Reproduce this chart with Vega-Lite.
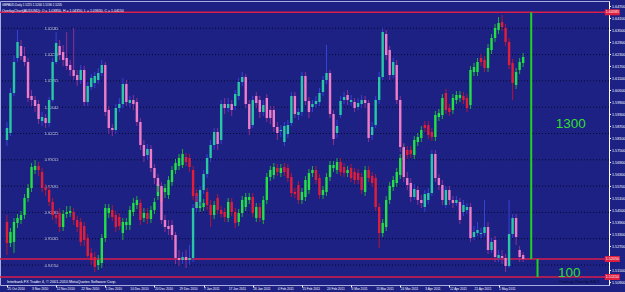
{
  "$schema": "https://vega.github.io/schema/vega-lite/v6.json",
  "width": 609,
  "height": 284,
  "autosize": "none",
  "padding": {"left": 0, "top": 1, "right": 16, "bottom": 7},
  "background": "#1d2184",
  "config": {"view": {"stroke": "#a9acdc", "strokeWidth": 1}, "font": "Liberation Sans"},
  "title": {"text": "GBPAUD,Daily  1.5225 1.5240 1.5190 1.5205", "subtitle": "OverlayChart(AUDUSD): O = 1.03850, H = 1.04350, L = 1.03650, C = 1.04150", "anchor": "start", "frame": "group", "offset": -11, "dx": 2, "fontSize": 3, "fontWeight": "normal", "color": "#ffffff", "font": "Liberation Sans", "subtitleFont": "Liberation Sans", "subtitleFontSize": 3.5, "subtitleColor": "#ffffff", "subtitlePadding": 1.8},
  "datasets": {
    "a": [
{"i":0,"o":0.959,"h":0.9625,"l":0.9425,"c":0.9485},
{"i":1,"o":0.9485,"h":0.956,"l":0.9465,"c":0.954},
{"i":2,"o":0.949,"h":0.961,"l":0.9435,"c":0.959},
{"i":3,"o":0.9585,"h":0.963,"l":0.956,"c":0.961},
{"i":4,"o":0.96,"h":0.9645,"l":0.958,"c":0.9625},
{"i":5,"o":0.9625,"h":0.973,"l":0.9605,"c":0.971},
{"i":6,"o":0.971,"h":0.978,"l":0.969,"c":0.976},
{"i":7,"o":0.976,"h":0.9885,"l":0.974,"c":0.9865},
{"i":8,"o":0.985,"h":0.99,"l":0.983,"c":0.987},
{"i":9,"o":0.987,"h":0.989,"l":0.982,"c":0.985},
{"i":10,"o":0.984,"h":0.986,"l":0.974,"c":0.976},
{"i":11,"o":0.976,"h":0.978,"l":0.972,"c":0.975},
{"i":12,"o":0.975,"h":0.977,"l":0.967,"c":0.969},
{"i":13,"o":0.969,"h":0.971,"l":0.96,"c":0.9625},
{"i":14,"o":0.9625,"h":0.965,"l":0.958,"c":0.961},
{"i":15,"o":0.9635,"h":0.966,"l":0.954,"c":0.9565},
{"i":16,"o":0.9565,"h":0.965,"l":0.9545,"c":0.963},
{"i":17,"o":0.963,"h":0.967,"l":0.961,"c":0.964},
{"i":18,"o":0.9635,"h":0.967,"l":0.9615,"c":0.9645},
{"i":19,"o":0.964,"h":0.966,"l":0.9575,"c":0.96},
{"i":20,"o":0.96,"h":0.962,"l":0.954,"c":0.9565},
{"i":21,"o":0.959,"h":0.961,"l":0.947,"c":0.949},
{"i":22,"o":0.957,"h":0.959,"l":0.947,"c":0.95},
{"i":23,"o":0.951,"h":0.953,"l":0.94,"c":0.942},
{"i":24,"o":0.9435,"h":0.946,"l":0.9375,"c":0.94},
{"i":25,"o":0.9415,"h":0.944,"l":0.934,"c":0.9365},
{"i":26,"o":0.9375,"h":0.9425,"l":0.935,"c":0.94},
{"i":27,"o":0.9385,"h":0.953,"l":0.936,"c":0.951},
{"i":28,"o":0.951,"h":0.968,"l":0.949,"c":0.966},
{"i":29,"o":0.9635,"h":0.968,"l":0.961,"c":0.966},
{"i":30,"o":0.965,"h":0.9675,"l":0.9595,"c":0.9615},
{"i":31,"o":0.9625,"h":0.9645,"l":0.954,"c":0.9565},
{"i":32,"o":0.9615,"h":0.9635,"l":0.955,"c":0.957},
{"i":33,"o":0.9535,"h":0.961,"l":0.95,"c":0.959},
{"i":34,"o":0.9575,"h":0.961,"l":0.955,"c":0.959},
{"i":35,"o":0.9575,"h":0.967,"l":0.955,"c":0.965},
{"i":36,"o":0.964,"h":0.971,"l":0.962,"c":0.9685},
{"i":37,"o":0.9675,"h":0.972,"l":0.9655,"c":0.97},
{"i":38,"o":0.9685,"h":0.9705,"l":0.9575,"c":0.96},
{"i":39,"o":0.961,"h":0.966,"l":0.959,"c":0.9635},
{"i":40,"o":0.9635,"h":0.966,"l":0.958,"c":0.9605},
{"i":41,"o":0.9605,"h":0.967,"l":0.9585,"c":0.965},
{"i":42,"o":0.965,"h":0.971,"l":0.963,"c":0.969},
{"i":43,"o":0.972,"h":0.98,"l":0.97,"c":0.978},
{"i":44,"o":0.976,"h":0.978,"l":0.967,"c":0.969},
{"i":45,"o":0.974,"h":0.978,"l":0.971,"c":0.976},
{"i":46,"o":0.9725,"h":0.982,"l":0.9705,"c":0.98},
{"i":47,"o":0.979,"h":0.987,"l":0.977,"c":0.985},
{"i":48,"o":0.985,"h":0.9905,"l":0.983,"c":0.9885},
{"i":49,"o":0.987,"h":0.993,"l":0.985,"c":0.991},
{"i":50,"o":0.9875,"h":0.9955,"l":0.986,"c":0.993},
{"i":51,"o":0.9915,"h":0.9935,"l":0.987,"c":0.989},
{"i":52,"o":0.991,"h":0.993,"l":0.984,"c":0.9865},
{"i":53,"o":0.985,"h":0.987,"l":0.97,"c":0.972},
{"i":54,"o":0.9735,"h":0.9755,"l":0.964,"c":0.966},
{"i":55,"o":0.966,"h":0.971,"l":0.964,"c":0.969},
{"i":56,"o":0.9665,"h":0.9705,"l":0.9645,"c":0.9685},
{"i":57,"o":0.974,"h":0.976,"l":0.965,"c":0.9675},
{"i":58,"o":0.9675,"h":0.97,"l":0.9565,"c":0.9625},
{"i":59,"o":0.9625,"h":0.9695,"l":0.9605,"c":0.9675},
{"i":60,"o":0.971,"h":0.973,"l":0.963,"c":0.965},
{"i":61,"o":0.965,"h":0.967,"l":0.961,"c":0.963},
{"i":62,"o":0.964,"h":0.966,"l":0.959,"c":0.9615},
{"i":63,"o":0.961,"h":0.971,"l":0.959,"c":0.969},
{"i":64,"o":0.969,"h":0.971,"l":0.962,"c":0.964},
{"i":65,"o":0.964,"h":0.966,"l":0.956,"c":0.9585},
{"i":66,"o":0.959,"h":0.9655,"l":0.957,"c":0.9635},
{"i":67,"o":0.9635,"h":0.972,"l":0.9615,"c":0.97},
{"i":68,"o":0.9665,"h":0.9735,"l":0.9645,"c":0.9715},
{"i":69,"o":0.97,"h":0.9735,"l":0.968,"c":0.9715},
{"i":70,"o":0.9715,"h":0.9735,"l":0.9615,"c":0.9635},
{"i":71,"o":0.961,"h":0.9685,"l":0.959,"c":0.9665},
{"i":72,"o":0.9665,"h":0.9685,"l":0.959,"c":0.961},
{"i":73,"o":0.96,"h":0.972,"l":0.958,"c":0.97},
{"i":74,"o":0.97,"h":0.9835,"l":0.968,"c":0.9815},
{"i":75,"o":0.9815,"h":0.987,"l":0.9795,"c":0.985},
{"i":76,"o":0.9825,"h":0.9885,"l":0.9805,"c":0.9865},
{"i":77,"o":0.986,"h":0.988,"l":0.982,"c":0.984},
{"i":78,"o":0.9835,"h":0.988,"l":0.9815,"c":0.986},
{"i":79,"o":0.9865,"h":0.9885,"l":0.982,"c":0.984},
{"i":80,"o":0.986,"h":0.988,"l":0.979,"c":0.981},
{"i":81,"o":0.9815,"h":0.9835,"l":0.9715,"c":0.9735},
{"i":82,"o":0.974,"h":0.976,"l":0.971,"c":0.973},
{"i":83,"o":0.9775,"h":0.9795,"l":0.968,"c":0.97},
{"i":84,"o":0.97,"h":0.976,"l":0.968,"c":0.974},
{"i":85,"o":0.9715,"h":0.982,"l":0.9695,"c":0.98},
{"i":86,"o":0.975,"h":0.9855,"l":0.973,"c":0.9835},
{"i":87,"o":0.9835,"h":0.987,"l":0.9815,"c":0.985},
{"i":88,"o":0.985,"h":0.987,"l":0.978,"c":0.98},
{"i":89,"o":0.981,"h":0.983,"l":0.9705,"c":0.9725},
{"i":90,"o":0.9725,"h":0.977,"l":0.9705,"c":0.975},
{"i":91,"o":0.974,"h":0.9835,"l":0.972,"c":0.9815},
{"i":92,"o":0.9815,"h":0.9895,"l":0.9795,"c":0.9875},
{"i":93,"o":0.986,"h":0.9895,"l":0.984,"c":0.9875},
{"i":94,"o":0.985,"h":0.991,"l":0.983,"c":0.989},
{"i":95,"o":0.989,"h":0.991,"l":0.982,"c":0.984},
{"i":96,"o":0.9865,"h":0.9885,"l":0.9815,"c":0.9835},
{"i":97,"o":0.9835,"h":0.987,"l":0.9815,"c":0.985},
{"i":98,"o":0.986,"h":0.988,"l":0.979,"c":0.981},
{"i":99,"o":0.984,"h":0.986,"l":0.978,"c":0.98},
{"i":100,"o":0.9835,"h":0.9855,"l":0.978,"c":0.98},
{"i":101,"o":0.9815,"h":0.9835,"l":0.973,"c":0.975},
{"i":102,"o":0.974,"h":0.987,"l":0.972,"c":0.985},
{"i":103,"o":0.985,"h":0.987,"l":0.979,"c":0.981},
{"i":104,"o":0.982,"h":0.984,"l":0.9765,"c":0.9785},
{"i":105,"o":0.981,"h":0.983,"l":0.9645,"c":0.9665},
{"i":106,"o":0.9665,"h":0.9685,"l":0.946,"c":0.9535},
{"i":107,"o":0.9535,"h":0.9605,"l":0.9515,"c":0.9585},
{"i":108,"o":0.9565,"h":0.972,"l":0.9545,"c":0.97},
{"i":109,"o":0.97,"h":0.979,"l":0.968,"c":0.977},
{"i":110,"o":0.9765,"h":0.982,"l":0.9745,"c":0.98},
{"i":111,"o":0.9785,"h":0.986,"l":0.9765,"c":0.984},
{"i":112,"o":0.9825,"h":0.993,"l":0.9805,"c":0.991},
{"i":113,"o":0.99,"h":0.998,"l":0.988,"c":0.996},
{"i":114,"o":0.995,"h":0.997,"l":0.9905,"c":0.9925},
{"i":115,"o":0.995,"h":0.997,"l":0.991,"c":0.993},
{"i":116,"o":0.9925,"h":1.002,"l":0.9905,"c":1.0},
{"i":117,"o":0.999,"h":1.0035,"l":0.997,"c":1.0015},
{"i":118,"o":1.001,"h":1.007,"l":0.999,"c":1.005},
{"i":119,"o":1.0075,"h":1.0095,"l":1.004,"c":1.006},
{"i":120,"o":1.0075,"h":1.0095,"l":1.0005,"c":1.0025},
{"i":121,"o":1.004,"h":1.006,"l":0.9995,"c":1.0015},
{"i":122,"o":1.0015,"h":1.0145,"l":0.9995,"c":1.0125},
{"i":123,"o":1.0115,"h":1.0155,"l":1.0095,"c":1.0135},
{"i":124,"o":1.0125,"h":1.023,"l":1.0105,"c":1.021},
{"i":125,"o":1.0235,"h":1.0255,"l":1.013,"c":1.015},
{"i":126,"o":1.016,"h":1.018,"l":1.012,"c":1.014},
{"i":127,"o":1.015,"h":1.023,"l":1.013,"c":1.021},
{"i":128,"o":1.02,"h":1.0245,"l":1.018,"c":1.0225},
{"i":129,"o":1.021,"h":1.0245,"l":1.019,"c":1.0225},
{"i":130,"o":1.022,"h":1.024,"l":1.018,"c":1.02},
{"i":131,"o":1.021,"h":1.023,"l":1.014,"c":1.016},
{"i":132,"o":1.0175,"h":1.037,"l":1.0155,"c":1.035},
{"i":133,"o":1.034,"h":1.0385,"l":1.032,"c":1.0365},
{"i":134,"o":1.034,"h":1.041,"l":1.032,"c":1.039},
{"i":135,"o":1.041,"h":1.043,"l":1.037,"c":1.039},
{"i":136,"o":1.04,"h":1.042,"l":1.034,"c":1.036},
{"i":137,"o":1.036,"h":1.048,"l":1.034,"c":1.046},
{"i":138,"o":1.045,"h":1.053,"l":1.043,"c":1.051},
{"i":139,"o":1.051,"h":1.058,"l":1.049,"c":1.056},
{"i":140,"o":1.055,"h":1.0615,"l":1.053,"c":1.0585},
{"i":141,"o":1.059,"h":1.0625,"l":1.0545,"c":1.0565},
{"i":142,"o":1.056,"h":1.058,"l":1.047,"c":1.049},
{"i":143,"o":1.049,"h":1.051,"l":1.0355,"c":1.0375},
{"i":144,"o":1.0385,"h":1.0405,"l":1.02,"c":1.0285},
{"i":145,"o":1.0275,"h":1.036,"l":1.0255,"c":1.034},
{"i":146,"o":1.035,"h":1.041,"l":1.033,"c":1.039},
{"i":147,"o":1.0385,"h":1.0435,"l":1.0365,"c":1.0415}
    ],
    "b": [
{"i":0,"o":1.58,"h":1.589,"l":1.577,"c":1.586},
{"i":1,"o":1.5835,"h":1.606,"l":1.582,"c":1.6035},
{"i":2,"o":1.6035,"h":1.6225,"l":1.602,"c":1.619},
{"i":3,"o":1.621,"h":1.635,"l":1.619,"c":1.629},
{"i":4,"o":1.627,"h":1.63,"l":1.62,"c":1.622},
{"i":5,"o":1.622,"h":1.6265,"l":1.617,"c":1.619},
{"i":6,"o":1.619,"h":1.621,"l":1.599,"c":1.601},
{"i":7,"o":1.602,"h":1.605,"l":1.597,"c":1.6},
{"i":8,"o":1.6,"h":1.602,"l":1.594,"c":1.597},
{"i":9,"o":1.598,"h":1.6,"l":1.588,"c":1.5905},
{"i":10,"o":1.5895,"h":1.594,"l":1.587,"c":1.5915},
{"i":11,"o":1.591,"h":1.593,"l":1.586,"c":1.5885},
{"i":12,"o":1.5885,"h":1.6015,"l":1.5865,"c":1.6},
{"i":13,"o":1.6,"h":1.621,"l":1.599,"c":1.619},
{"i":14,"o":1.619,"h":1.634,"l":1.618,"c":1.6285},
{"i":15,"o":1.627,"h":1.63,"l":1.62,"c":1.6225},
{"i":16,"o":1.624,"h":1.6275,"l":1.617,"c":1.62},
{"i":17,"o":1.621,"h":1.634,"l":1.615,"c":1.617},
{"i":18,"o":1.6175,"h":1.62,"l":1.612,"c":1.615},
{"i":19,"o":1.615,"h":1.636,"l":1.61,"c":1.612},
{"i":20,"o":1.6125,"h":1.615,"l":1.607,"c":1.61},
{"i":21,"o":1.61,"h":1.6175,"l":1.608,"c":1.615},
{"i":22,"o":1.615,"h":1.617,"l":1.597,"c":1.599},
{"i":23,"o":1.599,"h":1.609,"l":1.597,"c":1.607},
{"i":24,"o":1.6065,"h":1.613,"l":1.605,"c":1.611},
{"i":25,"o":1.6085,"h":1.614,"l":1.606,"c":1.612},
{"i":26,"o":1.61,"h":1.616,"l":1.608,"c":1.6135},
{"i":27,"o":1.6135,"h":1.62,"l":1.612,"c":1.6175},
{"i":28,"o":1.6175,"h":1.619,"l":1.592,"c":1.594},
{"i":29,"o":1.595,"h":1.597,"l":1.583,"c":1.586},
{"i":30,"o":1.586,"h":1.588,"l":1.582,"c":1.585},
{"i":31,"o":1.585,"h":1.598,"l":1.583,"c":1.596},
{"i":32,"o":1.596,"h":1.601,"l":1.594,"c":1.598},
{"i":33,"o":1.598,"h":1.611,"l":1.596,"c":1.608},
{"i":34,"o":1.608,"h":1.61,"l":1.597,"c":1.599},
{"i":35,"o":1.5985,"h":1.602,"l":1.596,"c":1.6},
{"i":36,"o":1.6,"h":1.6025,"l":1.595,"c":1.598},
{"i":37,"o":1.599,"h":1.601,"l":1.587,"c":1.589},
{"i":38,"o":1.589,"h":1.591,"l":1.575,"c":1.5775},
{"i":39,"o":1.5775,"h":1.58,"l":1.569,"c":1.572},
{"i":40,"o":1.5725,"h":1.578,"l":1.57,"c":1.5755},
{"i":41,"o":1.5755,"h":1.5775,"l":1.564,"c":1.566},
{"i":42,"o":1.566,"h":1.568,"l":1.558,"c":1.561},
{"i":43,"o":1.561,"h":1.563,"l":1.554,"c":1.557},
{"i":44,"o":1.557,"h":1.559,"l":1.538,"c":1.54},
{"i":45,"o":1.54,"h":1.5425,"l":1.534,"c":1.5365},
{"i":46,"o":1.537,"h":1.54,"l":1.5325,"c":1.5355},
{"i":47,"o":1.5375,"h":1.54,"l":1.53,"c":1.5325},
{"i":48,"o":1.5325,"h":1.534,"l":1.518,"c":1.521},
{"i":49,"o":1.521,"h":1.525,"l":1.517,"c":1.52},
{"i":50,"o":1.52,"h":1.524,"l":1.518,"c":1.5215},
{"i":51,"o":1.5215,"h":1.525,"l":1.516,"c":1.52},
{"i":52,"o":1.52,"h":1.5275,"l":1.5175,"c":1.521},
{"i":53,"o":1.521,"h":1.548,"l":1.519,"c":1.546},
{"i":54,"o":1.546,"h":1.552,"l":1.544,"c":1.549},
{"i":55,"o":1.549,"h":1.557,"l":1.547,"c":1.555},
{"i":56,"o":1.555,"h":1.565,"l":1.553,"c":1.563},
{"i":57,"o":1.563,"h":1.573,"l":1.561,"c":1.571},
{"i":58,"o":1.571,"h":1.58,"l":1.569,"c":1.5775},
{"i":59,"o":1.5775,"h":1.586,"l":1.575,"c":1.584},
{"i":60,"o":1.584,"h":1.586,"l":1.575,"c":1.578},
{"i":61,"o":1.58,"h":1.6,"l":1.578,"c":1.598},
{"i":62,"o":1.598,"h":1.601,"l":1.593,"c":1.596},
{"i":63,"o":1.596,"h":1.601,"l":1.594,"c":1.598},
{"i":64,"o":1.598,"h":1.6,"l":1.592,"c":1.595},
{"i":65,"o":1.597,"h":1.605,"l":1.595,"c":1.603},
{"i":66,"o":1.602,"h":1.611,"l":1.6,"c":1.609},
{"i":67,"o":1.609,"h":1.614,"l":1.607,"c":1.6115},
{"i":68,"o":1.6115,"h":1.613,"l":1.596,"c":1.598},
{"i":69,"o":1.598,"h":1.6,"l":1.5825,"c":1.5855},
{"i":70,"o":1.5875,"h":1.602,"l":1.586,"c":1.6},
{"i":71,"o":1.602,"h":1.604,"l":1.596,"c":1.5985},
{"i":72,"o":1.6,"h":1.602,"l":1.591,"c":1.594},
{"i":73,"o":1.594,"h":1.6,"l":1.592,"c":1.5975},
{"i":74,"o":1.601,"h":1.603,"l":1.589,"c":1.591},
{"i":75,"o":1.595,"h":1.597,"l":1.588,"c":1.591},
{"i":76,"o":1.595,"h":1.597,"l":1.584,"c":1.5865},
{"i":77,"o":1.5865,"h":1.589,"l":1.58,"c":1.5835},
{"i":78,"o":1.5845,"h":1.5875,"l":1.5815,"c":1.585},
{"i":79,"o":1.579,"h":1.589,"l":1.577,"c":1.587},
{"i":80,"o":1.583,"h":1.59,"l":1.581,"c":1.5875},
{"i":81,"o":1.5885,"h":1.604,"l":1.587,"c":1.602},
{"i":82,"o":1.602,"h":1.604,"l":1.591,"c":1.593},
{"i":83,"o":1.5925,"h":1.596,"l":1.59,"c":1.594},
{"i":84,"o":1.594,"h":1.614,"l":1.592,"c":1.612},
{"i":85,"o":1.612,"h":1.614,"l":1.5975,"c":1.5995},
{"i":86,"o":1.5995,"h":1.6015,"l":1.591,"c":1.594},
{"i":87,"o":1.5965,"h":1.6,"l":1.594,"c":1.598},
{"i":88,"o":1.598,"h":1.602,"l":1.596,"c":1.5995},
{"i":89,"o":1.599,"h":1.606,"l":1.597,"c":1.6035},
{"i":90,"o":1.604,"h":1.612,"l":1.602,"c":1.61},
{"i":91,"o":1.61,"h":1.6275,"l":1.608,"c":1.6135},
{"i":92,"o":1.6135,"h":1.615,"l":1.591,"c":1.593},
{"i":93,"o":1.593,"h":1.595,"l":1.5775,"c":1.5805},
{"i":94,"o":1.5835,"h":1.59,"l":1.581,"c":1.587},
{"i":95,"o":1.5925,"h":1.602,"l":1.591,"c":1.5995},
{"i":96,"o":1.6,"h":1.604,"l":1.598,"c":1.6015},
{"i":97,"o":1.6025,"h":1.605,"l":1.5975,"c":1.6},
{"i":98,"o":1.599,"h":1.6025,"l":1.597,"c":1.6},
{"i":99,"o":1.599,"h":1.601,"l":1.594,"c":1.596},
{"i":100,"o":1.5965,"h":1.601,"l":1.595,"c":1.5985},
{"i":101,"o":1.598,"h":1.6025,"l":1.596,"c":1.6},
{"i":102,"o":1.6,"h":1.602,"l":1.596,"c":1.5985},
{"i":103,"o":1.5985,"h":1.6,"l":1.579,"c":1.581},
{"i":104,"o":1.5825,"h":1.589,"l":1.58,"c":1.5865},
{"i":105,"o":1.5875,"h":1.602,"l":1.586,"c":1.6},
{"i":106,"o":1.6,"h":1.614,"l":1.598,"c":1.6115},
{"i":107,"o":1.6115,"h":1.636,"l":1.61,"c":1.634},
{"i":108,"o":1.633,"h":1.635,"l":1.62,"c":1.6225},
{"i":109,"o":1.625,"h":1.627,"l":1.61,"c":1.6125},
{"i":110,"o":1.6125,"h":1.621,"l":1.611,"c":1.619},
{"i":111,"o":1.6175,"h":1.62,"l":1.598,"c":1.6},
{"i":112,"o":1.6,"h":1.602,"l":1.574,"c":1.5765},
{"i":113,"o":1.5765,"h":1.5785,"l":1.559,"c":1.5615},
{"i":114,"o":1.561,"h":1.564,"l":1.555,"c":1.5575},
{"i":115,"o":1.5585,"h":1.561,"l":1.549,"c":1.5515},
{"i":116,"o":1.5515,"h":1.558,"l":1.55,"c":1.5555},
{"i":117,"o":1.555,"h":1.557,"l":1.5475,"c":1.55},
{"i":118,"o":1.55,"h":1.5525,"l":1.546,"c":1.5485},
{"i":119,"o":1.5465,"h":1.555,"l":1.544,"c":1.553},
{"i":120,"o":1.55,"h":1.556,"l":1.548,"c":1.5535},
{"i":121,"o":1.5535,"h":1.575,"l":1.552,"c":1.573},
{"i":122,"o":1.573,"h":1.575,"l":1.559,"c":1.561},
{"i":123,"o":1.561,"h":1.563,"l":1.555,"c":1.5575},
{"i":124,"o":1.5575,"h":1.56,"l":1.5475,"c":1.55},
{"i":125,"o":1.5475,"h":1.557,"l":1.546,"c":1.555},
{"i":126,"o":1.555,"h":1.557,"l":1.5475,"c":1.55},
{"i":127,"o":1.55,"h":1.552,"l":1.546,"c":1.5485},
{"i":128,"o":1.5485,"h":1.552,"l":1.547,"c":1.55},
{"i":129,"o":1.549,"h":1.551,"l":1.538,"c":1.54},
{"i":130,"o":1.544,"h":1.55,"l":1.542,"c":1.5475},
{"i":131,"o":1.545,"h":1.5485,"l":1.543,"c":1.5465},
{"i":132,"o":1.5465,"h":1.5485,"l":1.529,"c":1.531},
{"i":133,"o":1.5315,"h":1.537,"l":1.53,"c":1.534},
{"i":134,"o":1.5335,"h":1.539,"l":1.532,"c":1.535},
{"i":135,"o":1.533,"h":1.536,"l":1.531,"c":1.5335},
{"i":136,"o":1.5335,"h":1.55,"l":1.532,"c":1.5365},
{"i":137,"o":1.5365,"h":1.539,"l":1.523,"c":1.525},
{"i":138,"o":1.525,"h":1.531,"l":1.5235,"c":1.529},
{"i":139,"o":1.53,"h":1.532,"l":1.519,"c":1.5215},
{"i":140,"o":1.521,"h":1.525,"l":1.519,"c":1.5225},
{"i":141,"o":1.522,"h":1.525,"l":1.518,"c":1.521},
{"i":142,"o":1.521,"h":1.523,"l":1.514,"c":1.517},
{"i":143,"o":1.517,"h":1.55,"l":1.516,"c":1.533},
{"i":144,"o":1.533,"h":1.543,"l":1.531,"c":1.541},
{"i":145,"o":1.541,"h":1.543,"l":1.5275,"c":1.5315},
{"i":146,"o":1.525,"h":1.527,"l":1.519,"c":1.5215},
{"i":147,"o":1.5225,"h":1.524,"l":1.519,"c":1.5205}
    ],
    "grid": [{"g":0.9375},{"g":0.95065},{"g":0.9638},{"g":0.97695},{"g":0.9901},{"g":1.00325},{"g":1.0164},{"g":1.02955},{"g":1.0427},{"g":1.05585}],
    "hl": [{"p":1.64385},{"p":1.5205},{"p":1.5115}],
    "vl": [{"i":149.3,"p1":1.64385,"p2":1.5205},{"i":151.1,"p1":1.5205,"p2":1.5115}],
    "notes": [{"t":"1300","i":156.3,"p":1.58825},{"t":"100","i":156.9,"p":1.51375}],
    "foot": [{"t":"Interbank FX Trader 4, © 2001-2010 MetaQuotes Software Corp.","i":0,"p":1.50925,"side":"L"},{"t":"OverLay Chart by S.B.T.","i":168.9,"p":1.50925,"side":"R"}],
    "dates": [{"i":0,"d":"25 Oct 2010"},{"i":7,"d":"3 Nov 2010"},{"i":14,"d":"12 Nov 2010"},{"i":21,"d":"22 Nov 2010"},{"i":28,"d":"1 Dec 2010"},{"i":35,"d":"10 Dec 2010"},{"i":42,"d":"20 Dec 2010"},{"i":49,"d":"29 Dec 2010"},{"i":56,"d":"7 Jan 2011"},{"i":63,"d":"17 Jan 2011"},{"i":70,"d":"26 Jan 2011"},{"i":77,"d":"4 Feb 2011"},{"i":84,"d":"15 Feb 2011"},{"i":91,"d":"24 Feb 2011"},{"i":98,"d":"6 Mar 2011"},{"i":105,"d":"15 Mar 2011"},{"i":112,"d":"24 Mar 2011"},{"i":119,"d":"3 Apr 2011"},{"i":126,"d":"12 Apr 2011"},{"i":133,"d":"21 Apr 2011"},{"i":140,"d":"1 May 2011"}]
  },
  "resolve": {"scale": {"y": "independent"}, "axis": {"y": "independent"}},
  "layer": [
    {
      "data": {"name": "grid"},
      "mark": {"type": "rule", "color": "#06082a", "strokeDash": [1, 2], "strokeWidth": 1},
      "encoding": {"y": {"field": "g", "type": "quantitative", "scale": {"domain": [0.9275, 1.0695], "nice": false, "zero": false}, "axis": null}}
    },
    {
      "data": {"name": "hl"},
      "mark": {"type": "rule", "color": "#d81e4a", "strokeWidth": 1.5},
      "encoding": {"y": {"field": "p", "type": "quantitative", "scale": {"domain": [1.5075, 1.6495], "nice": false, "zero": false}, "axis": null}}
    },
    {
      "data": {"name": "a"},
      "mark": {"type": "rule", "strokeWidth": 1},
      "encoding": {
        "x": {"field": "i", "type": "quantitative", "scale": {"domain": [-0.56, 170.03], "nice": false, "zero": false},
              "axis": {"values": [0,7,14,21,28,35,42,49,56,63,70,77,84,91,98,105,112,119,126,133,140],
                       "labels": false, "tickColor": "#ffffff", "tickSize": 2, "domain": false, "grid": false, "title": null}},
        "y": {"field": "l", "type": "quantitative", "scale": {"domain": [0.9275, 1.0695], "nice": false, "zero": false}, "axis": null},
        "y2": {"field": "h"},
        "color": {"condition": {"test": "datum.c >= datum.o", "value": "#1fae3a"}, "value": "#b0163a"}
      }
    },
    {
      "data": {"name": "a"},
      "mark": {"type": "bar", "size": 2.4},
      "encoding": {
        "x": {"field": "i", "type": "quantitative"},
        "y": {"field": "o", "type": "quantitative", "scale": {"domain": [0.9275, 1.0695], "nice": false, "zero": false},
              "axis": {"orient": "left", "offset": -44, "values": [0.9375,0.95065,0.9638,0.97695,0.9901,1.00325,1.0164,1.02955,1.0427,1.05585], "format": ".5f",
                       "labelAlign": "left", "labelBaseline": "middle", "ticks": false, "tickSize": 0, "domain": false, "grid": false, "labelPadding": 0,
                       "labelFontSize": 3.8, "labelColor": "#dcdcf0", "labelFont": "Liberation Sans", "title": null, "labelOverlap": false, "labelFlush": false, "labelBound": false}},
        "y2": {"field": "c"},
        "color": {"condition": {"test": "datum.c >= datum.o", "value": "#22e046"}, "value": "#e01e3a"}
      }
    },
    {
      "data": {"name": "b"},
      "mark": {"type": "rule", "strokeWidth": 1},
      "encoding": {
        "x": {"field": "i", "type": "quantitative"},
        "y": {"field": "l", "type": "quantitative", "scale": {"domain": [1.5075, 1.6495], "nice": false, "zero": false}, "axis": null},
        "y2": {"field": "h"},
        "color": {"condition": {"test": "datum.c >= datum.o", "value": "#3444d6"}, "value": "#92308e"}
      }
    },
    {
      "data": {"name": "b"},
      "mark": {"type": "bar", "size": 2.4},
      "encoding": {
        "x": {"field": "i", "type": "quantitative"},
        "y": {"field": "o", "type": "quantitative", "scale": {"domain": [1.5075, 1.6495], "nice": false, "zero": false},
              "axis": {"orient": "right", "values": [1.509,1.515,1.527,1.533,1.539,1.545,1.551,1.557,1.563,1.569,1.575,1.581,1.587,1.593,1.599,1.605,1.611,1.617,1.623,1.629,1.635,1.641,1.647],
                       "format": ".5f", "labelFontSize": 3.7, "labelColor": "#ffffff", "labelFont": "Liberation Sans", "labelBaseline": "middle", "tickColor": "#ffffff", "tickSize": 1.5,
                       "domain": true, "domainColor": "#ffffff", "labelPadding": 1, "grid": false, "title": null, "labelOverlap": false, "labelFlush": false, "labelBound": false}},
        "y2": {"field": "c"},
        "color": {"condition": {"test": "datum.c >= datum.o", "value": "#28c8a4"}, "value": "#f07cc8"}
      }
    },
    {
      "data": {"name": "vl"},
      "mark": {"type": "rule", "color": "#22d022", "strokeWidth": 2},
      "encoding": {
        "x": {"field": "i", "type": "quantitative"},
        "y": {"field": "p1", "type": "quantitative", "scale": {"domain": [1.5075, 1.6495], "nice": false, "zero": false}, "axis": null},
        "y2": {"field": "p2"}
      }
    },
    {
      "data": {"name": "notes"},
      "mark": {"type": "text", "align": "left", "baseline": "middle", "fontSize": 13.5, "font": "Liberation Sans", "color": "#33dd33"},
      "encoding": {
        "x": {"field": "i", "type": "quantitative"},
        "y": {"field": "p", "type": "quantitative", "scale": {"domain": [1.5075, 1.6495], "nice": false, "zero": false}, "axis": null},
        "text": {"field": "t"}
      }
    },
    {
      "data": {"name": "foot"},
      "transform": [{"filter": "datum.side == 'L'"}],
      "mark": {"type": "text", "align": "left", "baseline": "middle", "fontSize": 3.8, "font": "Liberation Sans", "color": "#ffffff"},
      "encoding": {
        "x": {"field": "i", "type": "quantitative"},
        "y": {"field": "p", "type": "quantitative", "scale": {"domain": [1.5075, 1.6495], "nice": false, "zero": false}, "axis": null},
        "text": {"field": "t"}
      }
    },
    {
      "data": {"name": "foot"},
      "transform": [{"filter": "datum.side == 'R'"}],
      "mark": {"type": "text", "align": "right", "baseline": "middle", "fontSize": 3.8, "font": "Liberation Sans", "color": "#05051a"},
      "encoding": {
        "x": {"field": "i", "type": "quantitative"},
        "y": {"field": "p", "type": "quantitative", "scale": {"domain": [1.5075, 1.6495], "nice": false, "zero": false}, "axis": null},
        "text": {"field": "t"}
      }
    },
    {
      "data": {"name": "dates"},
      "mark": {"type": "text", "align": "left", "baseline": "middle", "dx": 0.5, "fontSize": 3.2, "font": "Liberation Sans", "color": "#ffffff"},
      "encoding": {
        "x": {"field": "i", "type": "quantitative"},
        "y": {"datum": 1.50575, "type": "quantitative", "scale": {"domain": [1.5075, 1.6495], "nice": false, "zero": false}, "axis": null},
        "text": {"field": "d"}
      }
    },
    {
      "data": {"name": "hl"},
      "mark": {"type": "tick", "orient": "horizontal", "size": 15, "thickness": 6, "color": "#e01e40", "opacity": 1},
      "encoding": {
        "x": {"datum": 172.4, "type": "quantitative"},
        "y": {"field": "p", "type": "quantitative", "scale": {"domain": [1.5075, 1.6495], "nice": false, "zero": false}, "axis": null}
      }
    },
    {
      "data": {"name": "hl"},
      "mark": {"type": "text", "align": "center", "baseline": "middle", "fontSize": 3.7, "font": "Liberation Sans", "color": "#ffffff"},
      "encoding": {
        "x": {"datum": 172.4, "type": "quantitative"},
        "y": {"field": "p", "type": "quantitative", "scale": {"domain": [1.5075, 1.6495], "nice": false, "zero": false}, "axis": null},
        "text": {"field": "p", "type": "quantitative", "format": ".5f"}
      }
    }
  ]
}
